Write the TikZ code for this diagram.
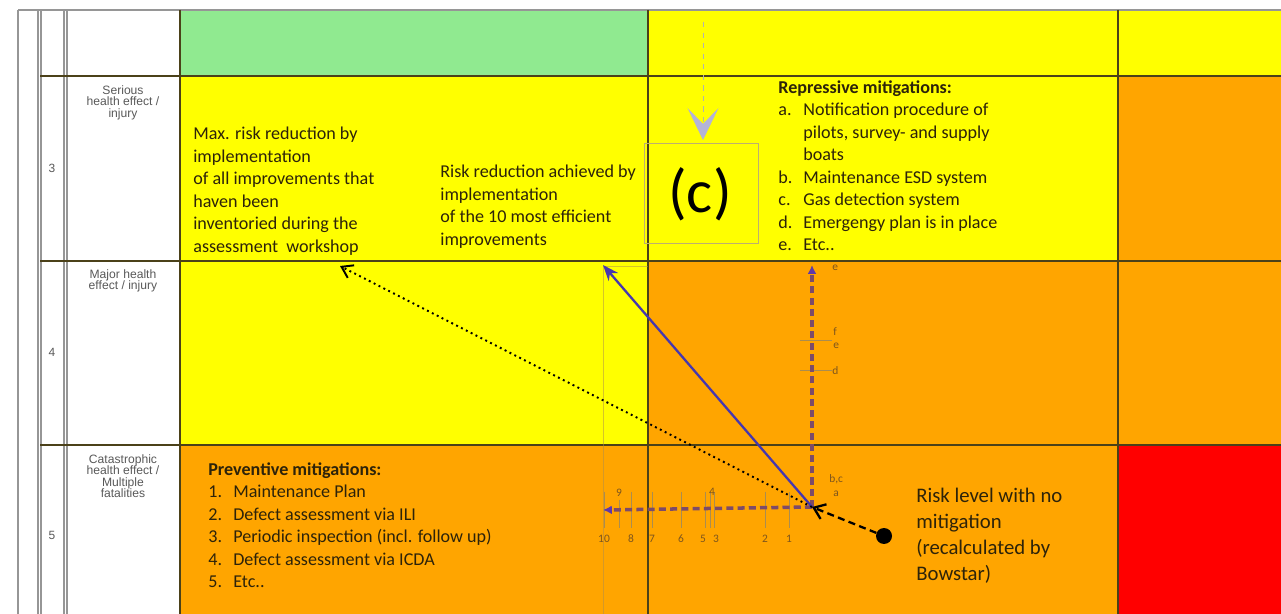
\documentclass[tikz,border=0pt]{standalone}
\usepackage{fontspec}
\setmainfont{Carlito}
\newfontfamily\lblfont{Liberation Sans}
\usetikzlibrary{arrows.meta}

\definecolor{riskgreen}{RGB}{144,234,144}
\definecolor{riskyellow}{RGB}{255,255,0}
\definecolor{riskorange}{RGB}{255,165,0}
\definecolor{riskred}{RGB}{255,0,0}
\definecolor{gridline}{RGB}{75,65,25}
\definecolor{framegray}{RGB}{150,150,150}
\definecolor{txt}{RGB}{45,35,10}
\definecolor{axiscol}{RGB}{125,75,105}
\definecolor{tipcol}{RGB}{95,55,170}
\definecolor{bluearrow}{RGB}{70,55,175}
\definecolor{ticklbl}{RGB}{125,85,30}
\definecolor{tickline}{RGB}{170,140,80}
\definecolor{lav}{RGB}{180,180,215}
\definecolor{boxline}{RGB}{190,175,110}

\tikzset{
  celltext/.style={font=\fontsize{10.3}{12.8}\selectfont, text=txt, align=left, inner sep=0pt, anchor=north west},
  sevtext/.style={font=\lblfont\fontsize{6.9}{6.6}\selectfont, text=black!65, align=center, inner sep=0pt, anchor=north},
  ticklabel/.style={font=\fontsize{6.5}{6.5}\selectfont, text=ticklbl, inner sep=0pt},
  axisline/.style={draw=axiscol, line width=2pt, dash pattern=on 4pt off 2.4pt},
}

\newcommand{\itm}[1]{\makebox[0.5cm][l]{#1}}

\begin{document}
\begin{tikzpicture}[x=0.02cm,y=-0.02cm]
\useasboundingbox (0,0) rectangle (1281,614);

% risk matrix cells
\fill[white] (0,0) rectangle (1281,614);
\fill[riskgreen]  (180,10)  rectangle (648,76);
\fill[riskyellow] (648,10)  rectangle (1281,76);
\fill[riskyellow] (180,76)  rectangle (1118,261);
\fill[riskorange] (1118,76) rectangle (1281,261);
\fill[riskyellow] (180,261) rectangle (648,445);
\fill[riskorange] (648,261) rectangle (1281,445);
\fill[riskorange] (180,445) rectangle (1118,614);
\fill[riskred]    (1118,445) rectangle (1281,614);

% frame and grid
\draw[framegray, line width=0.6pt] (18,10) -- (1281,10);
\foreach \gx in {18,38,41,64,67}
  \draw[framegray, line width=0.6pt] (\gx,10) -- (\gx,614);
\foreach \gy in {76,261,445}
  \draw[gridline, line width=0.7pt] (40,\gy) -- (1281,\gy);
\foreach \gx in {180,648,1118}
  \draw[gridline, line width=0.7pt] (\gx,10) -- (\gx,614);

% severity column
\node[sevtext] (sev3) at (123,85) {Serious\\health effect /\\injury};
\node[sevtext] (sev4) at (123,269) {Major health\\effect / injury};
\node[sevtext] (sev5) at (123,454) {Catastrophic\\health effect /\\Multiple\\fatalities};
\node[font=\lblfont\fontsize{6.8}{6.8}\selectfont, text=black!65] (num3) at (52,168) {3};
\node[font=\lblfont\fontsize{6.8}{6.8}\selectfont, text=black!65] (num4) at (52,352) {4};
\node[font=\lblfont\fontsize{6.8}{6.8}\selectfont, text=black!65] (num5) at (52,535) {5};

% faint helper lines
\draw[tickline, opacity=0.5, line width=0.3pt] (603,266) -- (603,614);
\draw[tickline, opacity=0.5, line width=0.3pt] (603,266) -- (648,266);

% texts
\node[celltext] (maxtext) at (193,127)
  {Max. risk reduction by\\implementation\\of all improvements that\\haven been\\inventoried during the\\assessment\ \ workshop};
\node[celltext] (toptext) at (440,165)
  {Risk reduction achieved by\\implementation\\of the 10 most efficient\\improvements};
\node[celltext] (repress) at (778,80)
  {\textbf{Repressive mitigations:}\\
   \itm{a.}Notification procedure of\\
   \itm{}pilots, survey- and supply\\
   \itm{}boats\\
   \itm{b.}Maintenance ESD system\\
   \itm{c.}Gas detection system\\
   \itm{d.}Emergengy plan is in place\\
   \itm{e.}Etc..};
\node[celltext] (prevent) at (208,462)
  {\textbf{Preventive mitigations:}\\
   \itm{1.}Maintenance Plan\\
   \itm{2.}Defect assessment via ILI\\
   \itm{3.}Periodic inspection (incl. follow up)\\
   \itm{4.}Defect assessment via ICDA\\
   \itm{5.}Etc..};
\node[celltext, font=\fontsize{11.8}{14.7}\selectfont] (nomit) at (916,488)
  {Risk level with no\\mitigation\\(recalculated by\\Bowstar)};

% (c) marker
\draw[boxline, line width=0.5pt] (644,143) rectangle (758,243);
\node[font=\fontsize{35}{35}\selectfont, text=black] (cmark) at (700,194) {(c)};
\coordinate (cin) at (703,22);
\coordinate (cout) at (703,140);
\draw[black!30, dashed, line width=0.4pt,
  -{Stealth[length=0.64cm, width=0.62cm, inset=0.32cm, color=lav]}] (cin) -- (cout);

% axes
\coordinate (O) at (812,507);
\coordinate (hend) at (603,510);
\coordinate (vend) at (812,265);
\foreach \tx/\tl in {789/1,765/2,681/6,652/7,631/8,604/10}{
  \draw[tickline, line width=0.3pt] (\tx,492) -- (\tx,528);
  \node[ticklabel] at (\tx,539) {\tl};
}
\foreach \tx in {705,710,714}
  \draw[tickline, line width=0.3pt] (\tx,492) -- (\tx,528);
\draw[tickline, line width=0.3pt] (619,500) -- (619,528);
\node[ticklabel] at (703,539) {5};
\node[ticklabel] at (716,539) {3};
\node[ticklabel] at (619,493) {9};
\node[ticklabel] at (712,492) {4};
\foreach \ty in {340,370}
  \draw[tickline, line width=0.3pt] (800,\ty) -- (832,\ty);
\node[ticklabel, anchor=west] at (832,268) {e};
\node[ticklabel, anchor=west] at (833,332) {f};
\node[ticklabel, anchor=west] at (833,346) {e};
\node[ticklabel, anchor=west] at (832,371) {d};
\node[ticklabel, anchor=west] at (829,479) {b,c};
\node[ticklabel, anchor=west] at (833,494) {a};

\draw[axisline, -{Latex[length=5pt, width=5pt, color=tipcol]}] (O) -- (hend);
\draw[axisline, -{Latex[length=5pt, width=5pt, color=tipcol]}] (O) -- (vend);

% reduction arrows
\coordinate (tenend) at (603,265);
\coordinate (maxend) at (340,266);
\draw[bluearrow, line width=1.3pt, -{Stealth[length=9pt, width=7pt]}] (O) -- (tenend);
\draw[black, line width=1.1pt, dotted, -{Straight Barb[length=6pt, width=8pt]}] (O) -- (maxend);

% no mitigation point
\node[circle, fill=black, inner sep=0pt, minimum size=0.32cm] (nodot) at (884,536) {};
\draw[black, line width=1.3pt, dash pattern=on 4pt off 2.5pt, -{Straight Barb[length=6pt, width=9pt]}] (nodot) -- (O);

\end{tikzpicture}
\end{document}
